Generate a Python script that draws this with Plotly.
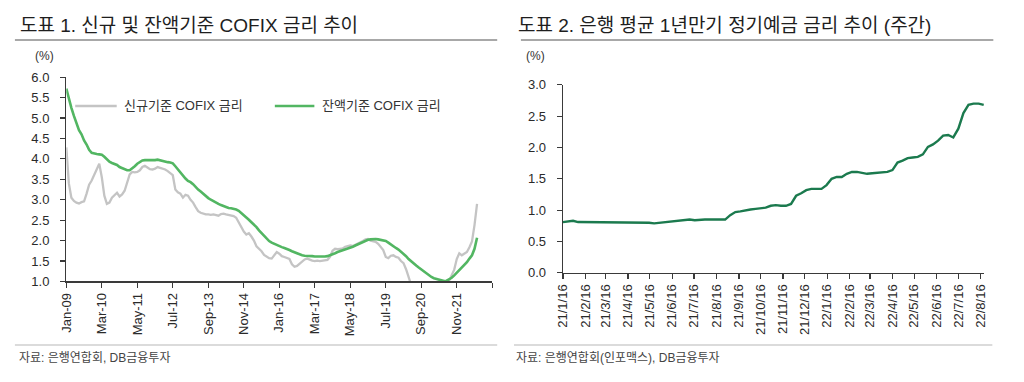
import plotly.graph_objects as go
import datetime as dt

# ---------------- data: left chart (monthly, Jan-09 .. Jul-22) ----------------
cofix_new = [
    4.28, 3.40, 3.05, 2.97, 2.93, 2.91, 2.94, 2.96, 3.15, 3.37,
    3.47, 3.60, 3.75, 3.88, 3.55, 3.10, 2.90, 2.93, 3.05, 3.12,
    3.17, 3.08, 3.13, 3.22, 3.45, 3.62, 3.68, 3.67, 3.68, 3.72,
    3.80, 3.83, 3.79, 3.75, 3.74, 3.76, 3.80, 3.78, 3.76, 3.74,
    3.70, 3.66, 3.60, 3.25, 3.18, 3.15, 3.05, 3.12, 3.10, 3.00,
    2.93, 2.82, 2.72, 2.68, 2.66, 2.64, 2.64, 2.63, 2.64, 2.62,
    2.61, 2.65, 2.66, 2.64, 2.63, 2.62, 2.60, 2.56, 2.45, 2.36,
    2.22, 2.15, 2.18, 2.10, 2.00, 1.86, 1.80, 1.74, 1.65, 1.60,
    1.57, 1.56, 1.63, 1.72, 1.68, 1.62, 1.60, 1.57, 1.55, 1.42,
    1.36, 1.38, 1.43, 1.50, 1.54, 1.56, 1.53, 1.51, 1.50, 1.51,
    1.50, 1.51, 1.52, 1.53, 1.60, 1.75, 1.80, 1.79, 1.80, 1.81,
    1.85, 1.86, 1.88, 1.87, 1.90, 1.92, 1.94, 1.99, 2.03, 2.04,
    2.00, 1.99, 1.97, 1.92, 1.85, 1.77, 1.60, 1.57, 1.63, 1.64,
    1.60, 1.58, 1.50, 1.45, 1.30, 1.10, 0.92, 0.89, 0.81, 0.80,
    0.88, 0.92, 0.90, 0.90, 0.86, 0.83, 0.84, 0.82, 0.82, 0.92,
    0.95, 1.02, 1.16, 1.29, 1.55, 1.69, 1.64, 1.69, 1.72, 1.84,
    1.98, 2.38, 2.90,
]
cofix_bal = [
    5.72, 5.45, 5.25, 5.05, 4.86, 4.70, 4.60, 4.45, 4.35, 4.22,
    4.15, 4.13, 4.12, 4.11, 4.10, 4.05, 3.98, 3.93, 3.90, 3.88,
    3.85, 3.80, 3.77, 3.73, 3.72, 3.72, 3.76, 3.82, 3.88, 3.93,
    3.96, 3.97, 3.97, 3.96, 3.96, 3.97, 3.98, 3.96, 3.95, 3.93,
    3.92, 3.91, 3.89, 3.82, 3.74, 3.66, 3.60, 3.52, 3.46, 3.43,
    3.38, 3.31, 3.25, 3.20, 3.14, 3.09, 3.04, 3.00, 2.96, 2.93,
    2.90, 2.87, 2.84, 2.82, 2.80, 2.79, 2.78, 2.76, 2.73, 2.68,
    2.62, 2.57, 2.51, 2.45, 2.40, 2.33, 2.25, 2.18, 2.11, 2.04,
    1.99, 1.95, 1.92, 1.89, 1.86, 1.84, 1.82, 1.80, 1.77, 1.74,
    1.71, 1.68, 1.65, 1.64, 1.63, 1.63, 1.62, 1.62, 1.61, 1.61,
    1.60, 1.60, 1.61, 1.62, 1.64, 1.67, 1.69, 1.72, 1.74, 1.76,
    1.78, 1.81, 1.83, 1.85, 1.88, 1.91, 1.94, 1.97, 2.00, 2.02,
    2.03, 2.04, 2.04, 2.03, 2.02, 2.01, 1.99, 1.95, 1.90, 1.86,
    1.82, 1.78, 1.73, 1.68, 1.62, 1.55, 1.49, 1.44, 1.39, 1.34,
    1.29, 1.25, 1.20, 1.15, 1.11, 1.08, 1.06, 1.04, 1.02, 1.01,
    1.02, 1.05, 1.09, 1.15, 1.21, 1.27, 1.34, 1.40, 1.47, 1.56,
    1.64, 1.80, 2.07,
]
left_tick_labels = ["Jan-09", "Mar-10", "May-11", "Jul-12", "Sep-13", "Nov-14",
                    "Jan-16", "Mar-17", "May-18", "Jul-19", "Sep-20", "Nov-21", ""]
left_tick_step = 14  # months between labels

# ---------------- data: right chart (weekly, 21/1/16 .. 22/8/20) ----------------
deposit_start = "2021-01-16"
deposit_rate = [
    0.81, 0.82, 0.83, 0.81, 0.81, 0.81, 0.81, 0.81, 0.81, 0.81,
    0.81, 0.81, 0.81, 0.80, 0.81, 0.81, 0.81, 0.80, 0.79, 0.80,
    0.80, 0.81, 0.83, 0.84, 0.85, 0.85, 0.84, 0.85, 0.85, 0.85,
    0.85, 0.85, 0.85, 0.92, 0.97, 0.98, 1.00, 1.01, 1.02, 1.03,
    1.04, 1.07, 1.08, 1.07, 1.07, 1.10, 1.23, 1.27, 1.32, 1.34,
    1.34, 1.34, 1.40, 1.50, 1.53, 1.53, 1.58, 1.61, 1.61, 1.60,
    1.58, 1.59, 1.60, 1.61, 1.61, 1.64, 1.76, 1.79, 1.83, 1.84,
    1.85, 1.89, 2.01, 2.05, 2.11, 2.19, 2.20, 2.16, 2.30, 2.55,
    2.68, 2.70, 2.70, 2.68,
]
right_tick_dates = ["2021-01-16", "2021-02-16", "2021-03-16", "2021-04-16", "2021-05-16",
                    "2021-06-16", "2021-07-16", "2021-08-16", "2021-09-16", "2021-10-16",
                    "2021-11-16", "2021-12-16", "2022-01-16", "2022-02-16", "2022-03-16",
                    "2022-04-16", "2022-05-16", "2022-06-16", "2022-07-16", "2022-08-16"]
right_tick_labels = ["21/1/16", "21/2/16", "21/3/16", "21/4/16", "21/5/16", "21/6/16",
                     "21/7/16", "21/8/16", "21/9/16", "21/10/16", "21/11/16", "21/12/16",
                     "22/1/16", "22/2/16", "22/3/16", "22/4/16", "22/5/16", "22/6/16",
                     "22/7/16", "22/8/16"]

# ---------------- build ----------------
W, H = 1024, 382
FONT = "Liberation Sans, Noto Sans CJK KR, sans-serif"
GREEN = "#52b662"
GRAY = "#c4c4c4"
DGREEN = "#1b7a4e"
AX = "#3a3a3a"

def px(x):
    return x / W

def py(y):
    return 1 - y / H

months = list(range(len(cofix_bal)))
start = dt.date.fromisoformat(deposit_start)
weeks = [(start + dt.timedelta(days=7 * i)).isoformat() for i in range(len(deposit_rate))]

fig = go.Figure()
fig.add_trace(go.Scatter(x=months, y=cofix_new, mode="lines", name="신규기준 COFIX 금리",
                         line=dict(color=GRAY, width=2.3), xaxis="x", yaxis="y",
                         hoverinfo="skip"))
fig.add_trace(go.Scatter(x=months, y=cofix_bal, mode="lines", name="잔액기준 COFIX 금리",
                         line=dict(color=GREEN, width=2.6), xaxis="x", yaxis="y",
                         hoverinfo="skip"))
fig.add_trace(go.Scatter(x=weeks, y=deposit_rate, mode="lines", name="정기예금 금리",
                         line=dict(color=DGREEN, width=2.4), xaxis="x2", yaxis="y2",
                         hoverinfo="skip"))

axis_common = dict(showgrid=False, zeroline=False, showline=True, linecolor=AX, linewidth=1.3,
                   ticks="outside", ticklen=5, tickwidth=1.2, tickcolor=AX,
                   tickfont=dict(family=FONT, size=13, color="#2a2a2a"))

fig.update_layout(
    width=W, height=H, margin=dict(l=0, r=0, t=0, b=0),
    paper_bgcolor="white", plot_bgcolor="white", showlegend=False,
    font=dict(family=FONT), hovermode=False,
    xaxis=dict(domain=[px(59), px(490)], range=[0, 168],
               tickvals=[i * left_tick_step for i in range(len(left_tick_labels))],
               ticktext=left_tick_labels, tickangle=-90, anchor="y", **axis_common),
    yaxis=dict(domain=[py(285.7), py(73)], range=[1.0, 6.0], dtick=0.5, tickformat=".1f",
               anchor="x", ticklabelstandoff=8, **axis_common),
    xaxis2=dict(domain=[px(561.5), px(988)], range=["2021-01-16", "2022-08-21"], type="date",
                tickvals=right_tick_dates, ticktext=right_tick_labels, tickangle=-90,
                anchor="y2", **axis_common),
    yaxis2=dict(domain=[py(276.7), py(81)], range=[0, 3.0], dtick=0.5, tickformat=".1f",
                anchor="x2", ticklabelstandoff=8, **axis_common),
)

shapes = [
    dict(type="line", xref="paper", yref="paper", x0=px(7), x1=px(495), y0=py(34.3), y1=py(34.3),
         line=dict(color="#a8a8a8", width=2)),
    dict(type="line", xref="paper", yref="paper", x0=px(519), x1=px(997), y0=py(34.3), y1=py(34.3),
         line=dict(color="#a8a8a8", width=2)),
    dict(type="line", xref="paper", yref="paper", x0=px(7), x1=px(495), y0=py(351.7), y1=py(351.7),
         line=dict(color="#cfcfcf", width=1.5)),
    dict(type="line", xref="paper", yref="paper", x0=px(512), x1=px(996), y0=py(351.7), y1=py(351.7),
         line=dict(color="#cfcfcf", width=1.5)),
    # legend samples
    dict(type="line", xref="paper", yref="paper", x0=px(68), x1=px(110), y0=py(103), y1=py(103),
         line=dict(color=GRAY, width=2.5)),
    dict(type="line", xref="paper", yref="paper", x0=px(270), x1=px(310), y0=py(103), y1=py(103),
         line=dict(color=GREEN, width=2.6)),
]
fig.update_layout(shapes=shapes)

def note(text, x, y, size, color="#222"):
    fig.add_annotation(text=text, x=px(x), y=py(y), xref="paper", yref="paper",
                       xanchor="left", yanchor="middle", showarrow=False,
                       font=dict(family=FONT, size=size, color=color))

note("도표 1. 신규 및 잔액기준 COFIX 금리 추이", 10, 19, 19, "#1e1e1e")
note("도표 2. 은행 평균 1년만기 정기예금 금리 추이 (주간)", 514, 19, 19, "#1e1e1e")
note("(%)", 25, 51.5, 12, "#333")
note("(%)", 522, 51.5, 12, "#333")
note("신규기준 COFIX 금리", 115, 103, 13, "#333")
note("잔액기준 COFIX 금리", 316, 103, 13, "#333")
note("자료: 은행연합회, DB금융투자", 9, 365, 12, "#444")
note("자료: 은행연합회(인포맥스), DB금융투자", 512, 365, 12, "#444")

fig.write_html("out.html", config={"displayModeBar": False, "staticPlot": True},
               post_script="document.body.style.margin='0';")
